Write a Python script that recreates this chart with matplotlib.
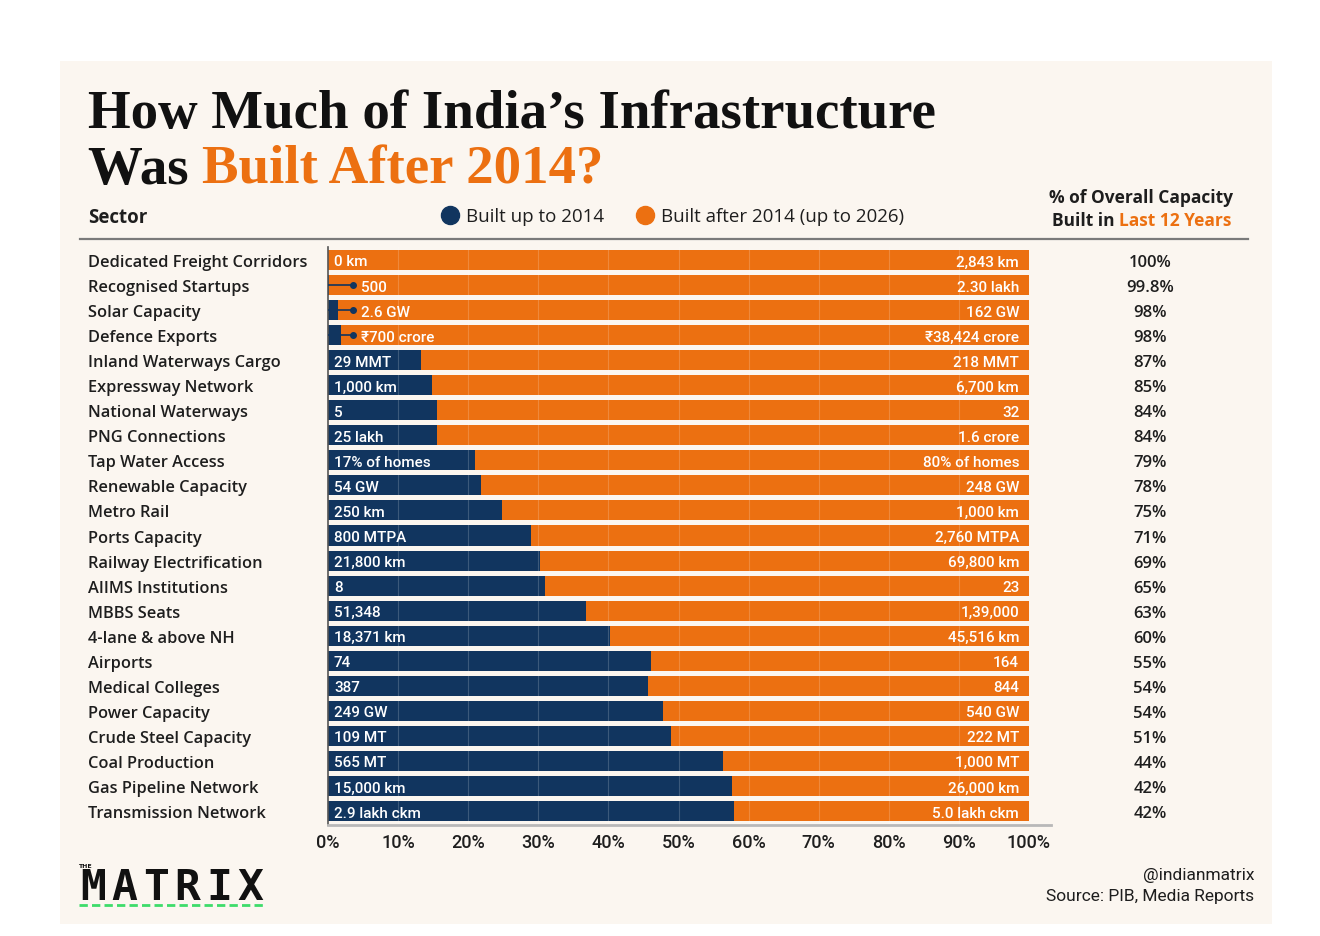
import matplotlib
matplotlib.use("Agg")
import matplotlib.pyplot as plt
from matplotlib.patches import Rectangle
from matplotlib.lines import Line2D

# data
sectors = ["Dedicated Freight Corridors", "Recognised Startups", "Solar Capacity",
           "Defence Exports", "Inland Waterways Cargo", "Expressway Network",
           "National Waterways", "PNG Connections", "Tap Water Access",
           "Renewable Capacity", "Metro Rail", "Ports Capacity",
           "Railway Electrification", "AIIMS Institutions", "MBBS Seats",
           "4-lane & above NH", "Airports", "Medical Colleges", "Power Capacity",
           "Crude Steel Capacity", "Coal Production", "Gas Pipeline Network",
           "Transmission Network"]
before_labels = ["0 km", "500", "2.6 GW", "₹700 crore", "29 MMT", "1,000 km", "5",
                 "25 lakh", "17% of homes", "54 GW", "250 km", "800 MTPA",
                 "21,800 km", "8", "51,348", "18,371 km", "74", "387", "249 GW",
                 "109 MT", "565 MT", "15,000 km", "2.9 lakh ckm"]
after_labels = ["2,843 km", "2.30 lakh", "162 GW", "₹38,424 crore", "218 MMT",
                "6,700 km", "32", "1.6 crore", "80% of homes", "248 GW", "1,000 km",
                "2,760 MTPA", "69,800 km", "23", "1,39,000", "45,516 km", "164",
                "844", "540 GW", "222 MT", "1,000 MT", "26,000 km", "5.0 lakh ckm"]
# share of the bar drawn as "built up to 2014" (%)
before_share = [0, 0.2, 1.4, 1.8, 13.2, 14.9, 15.6, 15.6, 21.0, 21.8, 24.8, 28.9,
                30.2, 31.0, 36.8, 40.2, 46.1, 45.7, 47.8, 49.0, 56.4, 57.6, 57.9]
pct_after = ["100%", "99.8%", "98%", "98%", "87%", "85%", "84%", "84%", "79%", "78%",
             "75%", "71%", "69%", "65%", "63%", "60%", "55%", "54%", "54%", "51%",
             "44%", "42%", "42%"]
x_ticks = [0, 10, 20, 30, 40, 50, 60, 70, 80, 90, 100]

NAVY = "#11355f"
ORANGE = "#ec7011"
CREAM = "#fbf6f0"
DARK = "#1e1e1e"
SANS = ["Open Sans", "DejaVu Sans"]
NARROW = ["Roboto", "DejaVu Sans"]
SERIF = ["Liberation Serif", "DejaVu Serif"]

W, H = 1320, 937
fig = plt.figure(figsize=(W / 100, H / 100), dpi=100)
fig.patch.set_facecolor("white")


def px(x, y):
    return x / W, 1 - y / H


# cream card
fig.patches.append(Rectangle(px(60, 925), 1212 / W, 863 / H, transform=fig.transFigure,
                             facecolor=CREAM, edgecolor="none", zorder=-10))

# title
fig.text(*px(88, 128), "How Much of India\u2019s Infrastructure", family=SERIF,
         weight="bold", fontsize=39.5, color="#111111", va="baseline")
t = fig.text(*px(88, 184), "Was ", family=SERIF, weight="bold", fontsize=39.5,
             color="#111111", va="baseline")
fig.canvas.draw()
bb = t.get_window_extent()
fig.text(bb.x1 / W, 1 - 184 / H, "Built After 2014?", family=SERIF,
         weight="bold", fontsize=39.5, color=ORANGE, va="baseline")

# header row
fig.text(*px(88, 218), "Sector", family=SANS, weight="bold", fontsize=13.5,
         color=DARK, va="center")
fig.add_artist(Line2D([450 / W], [1 - 216 / H], marker="o", markersize=13, color=NAVY,
                      transform=fig.transFigure))
fig.text(*px(466, 217), "Built up to 2014", family=SANS, fontsize=13.5, color=DARK,
         va="center")
fig.add_artist(Line2D([645 / W], [1 - 216 / H], marker="o", markersize=13, color=ORANGE,
                      transform=fig.transFigure))
fig.text(*px(661, 217), "Built after 2014 (up to 2026)", family=SANS, fontsize=13.5,
         color=DARK, va="center")
fig.text(*px(1141, 198), "% of Overall Capacity", family=SANS, weight="bold",
         fontsize=12.5, color=DARK, ha="center", va="center")
t1 = fig.text(*px(1052, 221), "Built in ", family=SANS, weight="bold", fontsize=12.5,
              color=DARK, va="center")
fig.canvas.draw()
bb = t1.get_window_extent()
fig.text(bb.x1 / W, 1 - 221 / H, "Last 12 Years", family=SANS, weight="bold",
         fontsize=12.5, color=ORANGE, va="center")
fig.add_artist(Line2D([80 / W, 1248 / W], [1 - 240 / H, 1 - 240 / H], color="#7a7a7a",
                      lw=1.6, transform=fig.transFigure))

# bar axes
top, bottom, left, right = 248, 826, 328, 1029
ax = fig.add_axes([left / W, 1 - bottom / H, (right - left) / W, (bottom - top) / H])
ax.set_facecolor("none")
n = len(sectors)
rows = list(range(n))
after_share = [100 - b for b in before_share]
ax.barh(rows, before_share, height=0.8, color=NAVY, zorder=2)
ax.barh(rows, after_share, left=before_share, height=0.8, color=ORANGE, zorder=2)
for g in x_ticks[1:-1]:
    ax.axvline(g, color="white", lw=0.8, alpha=0.18, zorder=3)
ax.set_xlim(0, 100)
ax.set_ylim(n - 1 + 14 / 25.05, -13 / 25.05)

for i in rows:
    if 0 < before_share[i] < 5:
        ax.plot([0, 3.5], [i, i], color=NAVY, lw=1.2, zorder=4)
        ax.plot([3.5], [i], "o", color=NAVY, markersize=4, zorder=4)
        ax.text(4.7, i, before_labels[i], color="white", family=NARROW, weight="medium",
                fontsize=11, va="center_baseline", zorder=5)
    else:
        ax.text(0.85, i, before_labels[i], color="white", family=NARROW, weight="medium",
                fontsize=11, va="center_baseline", zorder=5)
    ax.text(98.6, i, after_labels[i], color="white", family=NARROW, weight="medium",
            fontsize=11, va="center_baseline", ha="right", zorder=5)
    y = 263 + i * 25.05
    fig.text(*px(88, y), sectors[i], family=SANS, weight="semibold", fontsize=11.8,
             color=DARK, va="center")
    fig.text(*px(1150, y), pct_after[i], family=SANS, weight="semibold", fontsize=12,
             color=DARK, va="center", ha="center")

for s in ["top", "right", "bottom"]:
    ax.spines[s].set_visible(False)
ax.spines["left"].set_color("#555555")
ax.spines["left"].set_linewidth(1.2)
ax.set_yticks([])
ax.set_xticks(x_ticks)
ax.set_xticklabels([f"{v}%" for v in x_ticks], family=NARROW, weight="medium",
                   fontsize=13, color=DARK)
ax.tick_params(axis="x", length=0, pad=6)
fig.add_artist(Line2D([left / W, 1051 / W], [1 - 826 / H, 1 - 826 / H], color="#b8b8b8",
                      lw=2, transform=fig.transFigure))

# footer
fig.text(*px(1254, 876), "@indianmatrix", family=NARROW, fontsize=12.5, color=DARK,
         ha="right", va="center")
fig.text(*px(1254, 897), "Source: PIB, Media Reports", family=NARROW, fontsize=12.5,
         color=DARK, ha="right", va="center")
fig.text(*px(78, 867), "THE", family="DejaVu Sans", weight="bold", fontsize=4.5,
         color="#111111", va="center")
for k, ch in enumerate("MATRIX"):
    fig.text(*px(93 + k * 31.5, 888), ch, family="DejaVu Sans Mono", weight="bold",
             fontsize=31, color="#111111", va="center", ha="center")
fig.add_artist(Line2D([79 / W, 264 / W], [1 - 906 / H, 1 - 906 / H], color="#3ddc6a",
                      lw=2, ls=(0, (3, 1.5)), transform=fig.transFigure))

fig.savefig("out.png", dpi=100, facecolor=fig.get_facecolor())
